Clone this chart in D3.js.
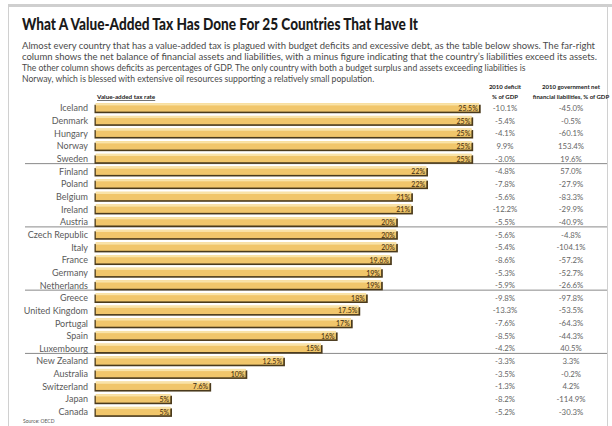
<!DOCTYPE html>
<html><head><meta charset="utf-8">
<script src="https://cdn.jsdelivr.net/npm/d3@7"></script>
<style>
html,body{margin:0;padding:0;background:#fff;}
svg{display:block;}
</style></head>
<body>
<svg id="chart" width="612" height="426"></svg>
<script>
const countries = ["Iceland","Denmark","Hungary","Norway","Sweden","Finland","Poland","Belgium","Ireland","Austria","Czech Republic","Italy","France","Germany","Netherlands","Greece","United Kingdom","Portugal","Spain","Luxembourg","New Zealand","Australia","Switzerland","Japan","Canada"];
const vatRates = [25.5,25,25,25,25,22,22,21,21,20,20,20,19.6,19,19,18,17.5,17,16,15,12.5,10,7.6,5,5];
const vatLabels = ["25.5%","25%","25%","25%","25%","22%","22%","21%","21%","20%","20%","20%","19.6%","19%","19%","18%","17.5%","17%","16%","15%","12.5%","10%","7.6%","5%","5%"];
const deficit = ["-10.1%","-5.4%","-4.1%","9.9%","-3.0%","-4.8%","-7.8%","-5.6%","-12.2%","-5.5%","-5.6%","-5.4%","-8.6%","-5.3%","-5.9%","-9.8%","-13.3%","-7.6%","-8.5%","-4.2%","-3.3%","-3.5%","-1.3%","-8.2%","-5.2%"];
const netLiab = ["-45.0%","-0.5%","-60.1%","153.4%","19.6%","57.0%","-27.9%","-83.3%","-29.9%","-40.9%","-4.8%","-104.1%","-57.2%","-52.7%","-26.6%","-97.8%","-53.5%","-64.3%","-44.3%","40.5%","3.3%","-0.2%","4.2%","-114.9%","-30.3%"];
const groupEnds = ["Sweden","Austria","Netherlands","Luxembourg"];
const title = "What A Value-Added Tax Has Done For 25 Countries That Have It";
const subtitle = [
 "Almost every country that has a value-added tax is plagued with budget deficits and excessive debt, as the table below shows. The far-right",
 "column shows the net balance of financial assets and liabilities, with a minus figure indicating that the country\u2019s liabilities exceed its assets.",
 "The other column shows deficits as percentages of GDP. The only country with both a budget surplus and assets exceeding liabilities is",
 "Norway, which is blessed with extensive oil resources supporting a relatively small population."
];
const barHeader = "Value-added tax rate";
const colHeader1 = ["2010 deficit","% of GDP"];
const colHeader2 = ["2010 government net","financial liabilities, % of GDP"];
const source = "Source: OECD";

const svg = d3.select("#chart");
const FONT = "Lato, 'Open Sans', sans-serif";

// frame
svg.append("rect").attr("x",8.5).attr("y",6).attr("width",599).attr("height",430)
  .attr("fill","#fff").attr("stroke","#d0d0d0").attr("stroke-width",1);
svg.append("rect").attr("x",8).attr("y",4).attr("width",604).attr("height",3).attr("fill","#cfcfcf");

// title
svg.append("text").attr("x",22).attr("y",30).text(title)
  .attr("font-family",FONT).attr("font-weight","900").attr("font-size",17)
  .attr("fill","#1a1a1a").attr("textLength",396).attr("lengthAdjust","spacingAndGlyphs");

const subLens = [573, 575, null, null];
svg.append("g").selectAll("text").data(subtitle).join("text")
  .attr("x",22).attr("y",(d,i)=>48.5+i*11.3).text(d=>d)
  .attr("font-family",FONT).attr("font-size",8.6).attr("fill","#4a4a4a")
  .each(function(d,i){ if(subLens[i]) d3.select(this).attr("textLength",subLens[i]).attr("lengthAdjust","spacingAndGlyphs"); });

// scales
const y = d3.scaleBand().domain(countries).range([101.9, 418.2]).padding(0);
const x = d3.scaleLinear().domain([0, 25.5]).range([95, 479]);
const cy = c => y(c) + y.bandwidth()/2;

// separators
svg.append("g").selectAll("line").data(groupEnds).join("line")
  .attr("x1",25).attr("x2",607).attr("y1",d=>cy(d)+4.8).attr("y2",d=>cy(d)+4.8)
  .attr("stroke","#8a8a8a").attr("stroke-width",1);

// header
svg.append("text").attr("x",97).attr("y",99).text(barHeader)
  .attr("font-family",FONT).attr("font-weight","bold").attr("font-size",6.3).attr("fill","#222")
  .attr("text-decoration","underline");

// country labels
svg.append("g").selectAll("text").data(countries).join("text")
  .attr("x",88).attr("y",d=>cy(d)+3.2).attr("text-anchor","end").text(d=>d)
  .attr("font-family",FONT).attr("font-size",9).attr("fill","#5a5a5a");

// bars
const data = countries.map((c,i)=>({c, v:vatRates[i], l:vatLabels[i]}));
const bars = svg.append("g").selectAll("g").data(data).join("g");
const bh = 10;
bars.append("rect") // shadow
  .attr("x",x(0)-0.5).attr("y",d=>cy(d.c)-bh/2+1.5)
  .attr("width",d=>x(d.v)-x(0)+2.2).attr("height",bh-1.5).attr("fill","#4a3a1c");
bars.append("rect") // body
  .attr("x",x(0)+0.8).attr("y",d=>cy(d.c)-bh/2)
  .attr("width",d=>x(d.v)-x(0)-0.8).attr("height",bh-1.6).attr("fill","#f1c66b");
bars.append("rect") // highlight
  .attr("x",x(0)+0.8).attr("y",d=>cy(d.c)-bh/2)
  .attr("width",d=>x(d.v)-x(0)-0.8).attr("height",2.2).attr("fill","#f9e3a8");
bars.append("text")
  .attr("x",d=>x(d.v)-1.2).attr("y",d=>cy(d.c)+2.8).attr("text-anchor","end").text(d=>d.l)
  .attr("font-family",FONT).attr("font-size",7).attr("fill","#3a2a10");

// table columns
const c1 = 505, c2 = 571;
svg.append("g").selectAll("text").data(colHeader1).join("text")
  .attr("x",c1).attr("y",(d,i)=>89+i*9.5).attr("text-anchor","middle").text(d=>d)
  .attr("font-family",FONT).attr("font-weight","bold").attr("font-size",6).attr("fill","#222");
svg.append("g").selectAll("text").data(colHeader2).join("text")
  .attr("x",c2).attr("y",(d,i)=>89+i*9.5).attr("text-anchor","middle").text(d=>d)
  .attr("font-family",FONT).attr("font-weight","bold").attr("font-size",6).attr("fill","#222");
svg.append("g").selectAll("text").data(countries).join("text")
  .attr("x",c1).attr("y",d=>cy(d)+2.8).attr("text-anchor","middle").text((d,i)=>deficit[i])
  .attr("font-family",FONT).attr("font-size",7.8).attr("fill","#666");
svg.append("g").selectAll("text").data(countries).join("text")
  .attr("x",c2).attr("y",d=>cy(d)+2.8).attr("text-anchor","middle").text((d,i)=>netLiab[i])
  .attr("font-family",FONT).attr("font-size",7.8).attr("fill","#666");

// source
svg.append("text").attr("x",23).attr("y",423).text(source)
  .attr("font-family",FONT).attr("font-size",5).attr("fill","#555");
</script>
</body></html>
